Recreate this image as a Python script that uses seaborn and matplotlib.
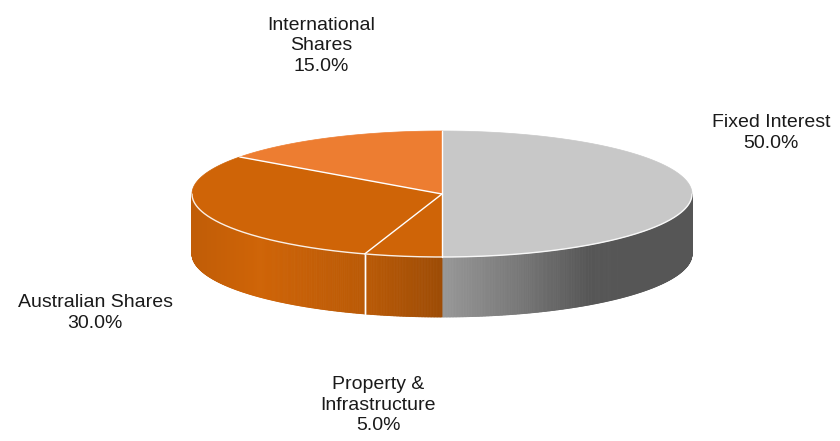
import numpy as np
import matplotlib
matplotlib.use("Agg")
import matplotlib.pyplot as plt
from matplotlib.collections import PolyCollection
from matplotlib.patches import Polygon
import seaborn as sns

# ---------------- data ----------------
labels = ["Fixed Interest", "Property &\nInfrastructure", "Australian Shares", "International\nShares"]
shares = [50.0, 5.0, 30.0, 15.0]
top_colors = ["#C8C8C8", "#CF6407", "#CF6407", "#ED7D31"]

# label centres (pixel coords of the 840x441 canvas)
label_pos = [(771, 133), (378, 405), (95, 313), (321, 46)]

# ---------------- geometry / style ----------------
cx, cy = 442, 194      # centre of top ellipse
a, b = 250, 63         # semi axes
depth = 60             # thickness of the pie
shade_x = [193, 260, 365, 442, 520, 590, 693]
shade_f = [0.93, 1.0, 0.90, 0.76, 0.60, 0.43, 0.43]

sns.set_theme(style="white")
plt.rcParams['font.family'] = ['Liberation Sans', 'DejaVu Sans']

fig = plt.figure(figsize=(8.4, 4.41), dpi=100)
ax = fig.add_axes([0, 0, 1, 1])
ax.set_xlim(0, 840)
ax.set_ylim(441, 0)
ax.axis("off")


def ell(theta, dy=0.0):
    t = np.radians(theta)
    return cx + a * np.cos(t), cy - b * np.sin(t) + dy


# slice angle ranges, clockwise from 12 o'clock
bounds = []
start = 90.0
for v in shares:
    end = start - 360.0 * v / 100.0
    bounds.append((start, end))
    start = end

# ---------- sides (front half only) ----------
for (s, e), col in zip(bounds, top_colors):
    base = np.array(matplotlib.colors.to_rgb(col))
    for flo, fhi in [(-180, 0), (180, 360), (-540, -360)]:
        lo, hi = max(e, flo), min(s, fhi)
        if hi <= lo:
            continue
        th = np.linspace(lo, hi, max(int((hi - lo) * 3), 2))
        quads, cols = [], []
        for t1, t2 in zip(th[:-1], th[1:]):
            x1, y1 = ell(t1)
            x2, y2 = ell(t2)
            quads.append([(x1, y1), (x2, y2), (x2, y2 + depth), (x1, y1 + depth)])
            f = np.interp((x1 + x2) / 2, shade_x, shade_f)
            cols.append(np.clip(base * f, 0, 1))
        ax.add_collection(PolyCollection(quads, facecolors=cols, edgecolors=cols,
                                         linewidths=0.6, zorder=1))
        # white split line on the side at slice boundaries inside front half
        for t in (s, e):
            if flo < t < fhi and abs(t % 90) > 1e-6:
                x, y = ell(t)
                ax.plot([x, x], [y, y + depth], color="white", lw=1.0, zorder=2)

# ---------- tops ----------
for (s, e), col in zip(bounds, top_colors):
    th = np.linspace(s, e, 200)
    xs, ys = ell(th)
    pts = np.column_stack([np.r_[cx, xs], np.r_[cy, ys]])
    ax.add_patch(Polygon(pts, closed=True, facecolor=col, edgecolor=col,
                         lw=0.5, zorder=3))

# split lines on top
for (s, e) in bounds:
    x, y = ell(s)
    ax.plot([cx, x], [cy, y], color="white", lw=1.0, zorder=4)

# rim highlight on the front edge
th = np.linspace(-180, 0, 300)
xs, ys = ell(th)
ax.plot(xs, ys, color="white", lw=1.0, alpha=0.9, zorder=4)

# ---------- labels ----------
for lab, v, (lx, ly) in zip(labels, shares, label_pos):
    ax.text(lx, ly, f"{lab}\n{v:.1f}%", ha="center", va="center",
            fontsize=14, color="#1a1a1a", linespacing=1.3, zorder=5)

fig.savefig("out.png", dpi=100, facecolor="white")
